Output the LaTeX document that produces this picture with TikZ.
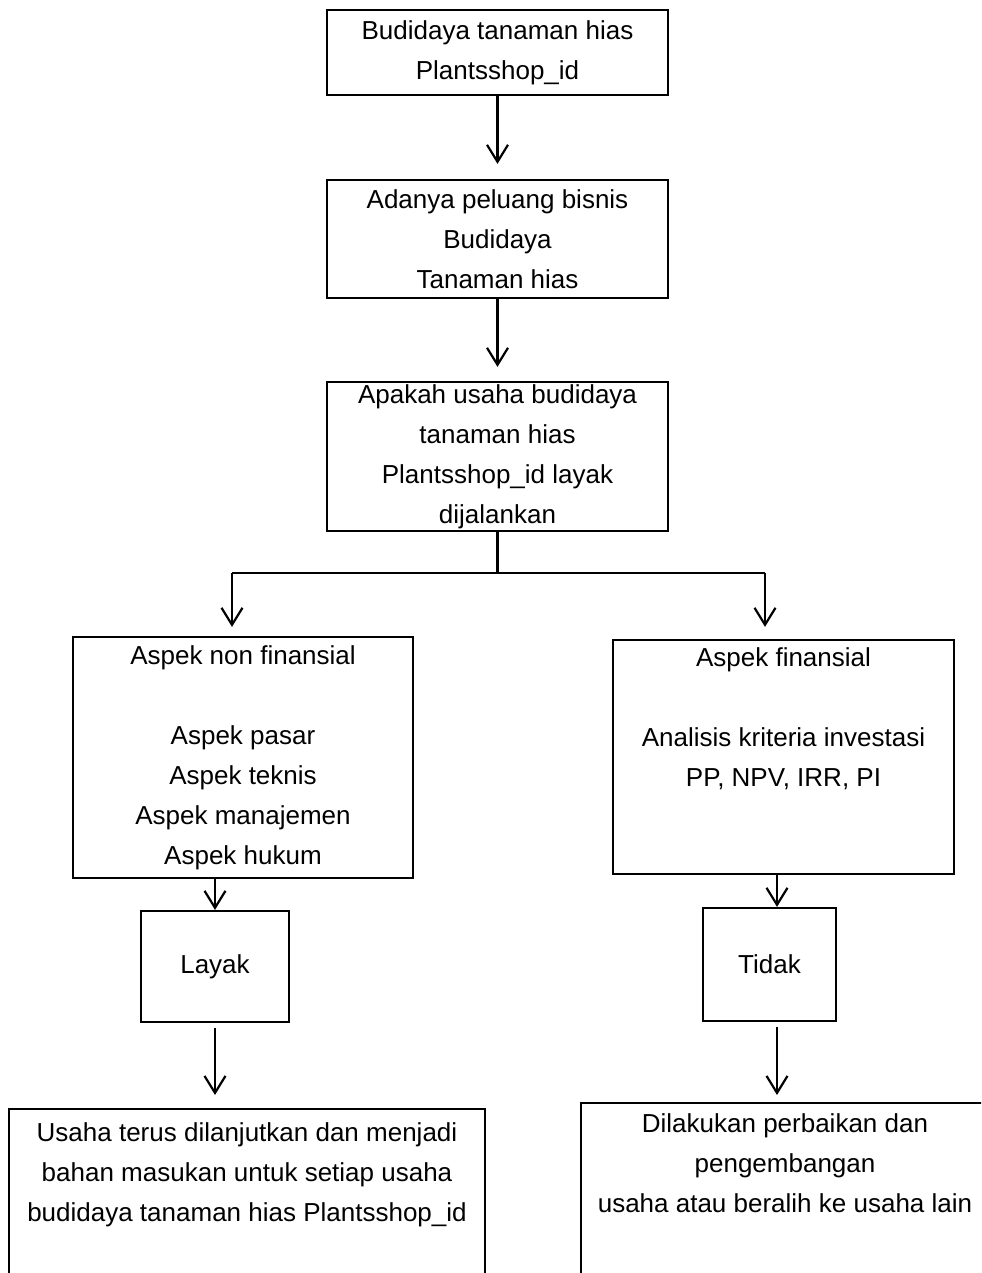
\documentclass[tikz,border=0pt]{standalone}
\usepackage{fontspec}
\setmainfont{Liberation Sans}
\usetikzlibrary{arrows.meta}

\begin{document}
\begin{tikzpicture}[x=0.5pt, y=-0.5pt,
    kotak/.style={draw, line width=1.1pt, align=center, inner sep=0pt,
        font=\fontsize{13}{20}\selectfont},
    panah/.style={line width=1.1pt, -{Straight Barb[length=8.5pt,width=10.5pt]}}]
    \useasboundingbox (0,0) rectangle (981,1273);
    \clip (0,0) rectangle (981,1273);

    % kotak utama di tengah
    \node [kotak, minimum width=170.5pt, minimum height=42.5pt] (budidaya) at (497.5,52.5)
        {Budidaya tanaman hias\\ Plantsshop\_id};
    \node [kotak, minimum width=170.5pt, minimum height=59pt] (peluang) at (497.5,239)
        {Adanya peluang bisnis\\ Budidaya\\ Tanaman hias};
    \node [kotak, minimum width=170.5pt, minimum height=74.5pt] (apakah) at (497.5,456.5)
        {Apakah usaha budidaya\\ tanaman hias\\ Plantsshop\_id layak\\ dijalankan};

    % dua aspek
    \node [kotak, minimum width=170pt, minimum height=120.5pt] (nonfin) at (243,757.5)
        {Aspek non finansial\\ ~\\ Aspek pasar\\ Aspek teknis\\ Aspek manajemen\\ Aspek hukum};
    \node [kotak, minimum width=170.5pt, minimum height=117pt] (fin) at (783.5,757)
        {Aspek finansial\\ ~\\ Analisis kriteria investasi\\ PP, NPV, IRR, PI\\ ~\\ ~};

    % hasil
    \node [kotak, minimum width=74pt, minimum height=55.5pt] (layak) at (215,966.5) {Layak};
    \node [kotak, minimum width=66.5pt, minimum height=56.5pt] (tidak) at (769.5,964.5) {Tidak};

    \node [kotak, anchor=north, minimum width=238pt, inner ysep=7pt, text depth=90pt] (lanjut) at (247,1108)
        {Usaha terus dilanjutkan dan menjadi\\ bahan masukan untuk setiap usaha\\ budidaya tanaman hias Plantsshop\_id};
    \node [kotak, anchor=north, minimum width=204pt, inner ysep=5.5pt, text depth=90pt] (beralih) at (785,1102)
        {Dilakukan perbaikan dan\\ pengembangan\\ usaha atau beralih ke usaha lain};

    % panah
    \draw [panah, shorten >=7.5pt] (budidaya) -- (peluang);
    \draw [panah, shorten >=7pt] (peluang) -- (apakah);

    \coordinate (kiri) at (232,573);
    \coordinate (kanan) at (765,573);
    \coordinate (turun) at (777,0);
    \draw [line width=1.1pt] (apakah.south) -- (apakah.south |- kiri); % garis cabang
    \draw [line width=1.1pt] (kiri) -- (kanan);
    \draw [panah, shorten >=4.5pt] (kiri) -- (kiri |- nonfin.north);
    \draw [panah, shorten >=6pt] (kanan) -- (kanan |- fin.north);

    \draw [panah] (layak.north |- nonfin.south) -- (layak.north);
    \draw [panah] (turun |- fin.south) -- (turun |- tidak.north);
    \draw [panah, shorten <=2.5pt, shorten >=6.5pt] (layak.south) -- (layak.south |- lanjut.north);
    \draw [panah, shorten <=2.5pt, shorten >=3.5pt] (turun |- tidak.south) -- (turun |- beralih.north);
\end{tikzpicture}
\end{document}
